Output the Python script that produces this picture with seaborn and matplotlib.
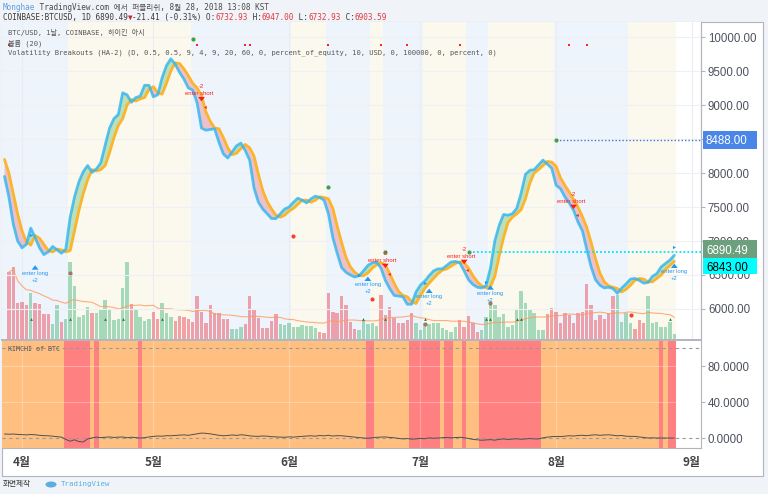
import numpy as np
import pandas as pd
import matplotlib
matplotlib.use("Agg")
import matplotlib.pyplot as plt
import matplotlib.dates as mdates
from matplotlib.patches import Rectangle, Ellipse
from matplotlib.transforms import blended_transform_factory, offset_copy
import seaborn as sns

# ------------------------------------------------------------------ data
first_day = "2018-03-28"
ha_close = [
    7950, 7650, 7250, 7000, 6900, 6950, 7190, 7050, 6900, 6800,
    6840, 6920, 6870, 6820, 6880, 7350, 7650, 7870, 8020, 8110,
    8010, 8060, 8150, 8410, 8660, 8800, 8860, 9180, 9150, 9040,
    9110, 9130, 9290, 9290, 9120, 9150, 9400, 9580, 9680, 9600,
    9480, 9380, 9250, 9220, 9030, 8660, 8630, 8640, 8650, 8450,
    8280, 8220, 8310, 8400, 8440, 8330, 8190, 7780, 7570, 7470,
    7400, 7330, 7330, 7400, 7470, 7500, 7570, 7630, 7600, 7560,
    7620, 7660, 7640, 7600, 7400, 7050, 6820, 6610, 6540, 6500,
    6470, 6490, 6560, 6640, 6680, 6690, 6600, 6420, 6300, 6200,
    6190, 6180, 6070, 6070, 6250, 6350, 6410, 6490, 6560, 6590,
    6590, 6640, 6690, 6700, 6680, 6560, 6430, 6360, 6320, 6310,
    6340, 6600, 7000, 7230, 7390, 7380, 7400, 7480, 7700, 7980,
    8040, 8050, 8120, 8190, 8130, 8070, 7820, 7770, 7650, 7560,
    7450, 7280, 7150, 6880, 6620, 6430, 6350, 6310, 6320, 6300,
    6230, 6310, 6370, 6440, 6450, 6420, 6380, 6390, 6480, 6520,
    6620, 6670, 6720, 6790]
ha_open = [
    8200, 8000, 7700, 7400, 7150, 6990, 6940, 7080, 7040, 6950,
    6860, 6840, 6880, 6870, 6840, 6860, 7150, 7450, 7700, 7900,
    8050, 8030, 8050, 8110, 8300, 8520, 8700, 8800, 9000, 9080,
    9060, 9090, 9110, 9230, 9270, 9180, 9160, 9320, 9500, 9620,
    9610, 9530, 9430, 9320, 9250, 9140, 8900, 8760, 8660, 8650,
    8520, 8370, 8270, 8290, 8360, 8420, 8370, 8250, 7980, 7740,
    7580, 7470, 7380, 7350, 7380, 7440, 7480, 7540, 7600, 7600,
    7570, 7600, 7650, 7640, 7620, 7480, 7220, 6980, 6760, 6620,
    6540, 6490, 6490, 6530, 6600, 6650, 6680, 6650, 6520, 6380,
    6260, 6200, 6180, 6110, 6080, 6200, 6300, 6380, 6450, 6520,
    6570, 6590, 6630, 6670, 6690, 6680, 6600, 6490, 6400, 6340,
    6310, 6330, 6480, 6780, 7050, 7270, 7350, 7400, 7460, 7620,
    7850, 8000, 8050, 8110, 8170, 8160, 8100, 7930, 7820, 7720,
    7610, 7500, 7360, 7200, 6980, 6740, 6530, 6400, 6340, 6320,
    6300, 6250, 6290, 6350, 6420, 6450, 6440, 6400, 6400, 6450,
    6500, 6580, 6640, 6700]

volume_first_day = "2018-03-29"
volume = [
    68, 73, 37, 38, 35, 47, 37, 36, 26, 26, 16, 35, 18, 21, 78, 54, 23, 25, 33, 27,
    27, 30, 40, 30, 20, 21, 52, 78, 36, 30, 23, 19, 21, 28, 21, 37, 27, 23, 19, 24,
    23, 21, 18, 44,
    28, 17, 35, 27, 27, 21, 21, 11, 11, 13, 16, 44, 30, 22, 12, 12, 19, 26, 16, 15,
    17, 13, 13, 15, 14, 14, 12, 8, 7, 47, 28, 27, 44, 35, 18, 11, 10, 20, 16, 17,
    14, 45, 25,
    33, 22, 17, 17, 20, 27, 17, 10, 17, 16, 17, 17, 12, 10, 8, 13, 20, 13, 24, 17,
    8, 10, 23, 37, 35, 23, 26, 13, 15, 31, 49, 37, 30, 27, 10, 10, 26, 32, 28, 17,
    27, 25, 17, 27,
    28, 56, 35, 20, 25, 21, 27, 44, 45, 18, 27, 17, 11, 20, 17, 44, 17, 18, 13, 13,
    18, 6]
volume_side = ("RRRRRGRRRRGGRGGGGGGRGGGGGGGGRGGGGRRGGGRRRRRR"
               "RRRRRRRGGGRRRRRRRRGGGGGGGGGRRRRRRRRRGGGGGRR"
               "RRRRRRGGGGGGGGGGRRRRRGGGGGGGGGGGGGGGRRRRRRRR"
               "RRRRRRRRGGGGRRRGGGGGGG")

kimchi_premium = [
    4.5, 4.2, 4.4, 4.0, 3.8, 3.5, 3.9, 3.6, 3.0, 2.6,
    2.5, 2.0, 1.5, 1.0, -1.5, -3.6, -2.0, -4.0, -4.4, -1.0,
    0.2, 1.0, 0.5, 0.8, 1.2, 0.6, 1.0, 1.1, 0.3, 0.9,
    0.5, 0.0, 0.4, 1.2, 1.8, 2.2, 2.0, 2.6, 2.5, 2.9,
    3.2, 3.5, 3.0, 3.8, 4.6, 5.5, 5.2, 4.6, 3.8, 3.0,
    2.5, 2.8, 3.4, 2.9, 3.6, 3.2, 2.4, 2.0, 1.8, 2.3,
    2.0, 1.5, 1.2, 1.0, 0.8, 1.3, 1.0, 1.5, 1.8, 2.2,
    2.5, 2.0, 2.8, 2.4, 3.0, 2.2, 2.6, 2.5, 2.0, 1.6,
    1.0, 0.5, 0.0, -0.3, 0.2, 0.8, 1.0, 1.2, 0.6, 0.3,
    -0.5, -1.0, -0.6, -1.2, -1.0, -0.4, -0.8, 0.2, -0.3, 0.0,
    0.4, 0.6, 0.2, 0.5, 0.8, 0.3, -0.5, -1.5, -2.0, -2.5,
    -2.2, -1.8, -2.4, -1.5, -1.0, -1.6, -1.2, -0.8, -1.4, -1.0,
    -0.6, -1.0, -1.0, 0.2, 1.0, 1.5, 1.8, 1.6, 2.0, 2.5,
    2.2, 2.8, 3.0, 2.6, 3.2, 3.6, 3.0, 3.4, 3.6, 3.1,
    2.5, 2.8, 2.0, 1.8, 1.8, 1.2, 0.5, 0.0, 0.2, 0.0,
    0.0, -0.1, 0.0, 0.0]

kimchi_red_days = [("2018-04-11", "2018-04-16"), ("2018-04-18", "2018-04-18"),
                   ("2018-04-28", "2018-04-28"), ("2018-06-19", "2018-06-20"),
                   ("2018-06-29", "2018-07-05"), ("2018-07-07", "2018-07-08"),
                   ("2018-07-11", "2018-07-11"), ("2018-07-15", "2018-07-28"),
                   ("2018-08-25", "2018-08-25"), ("2018-08-27", "2018-08-28")]
kimchi_last_day = "2018-08-28"

long_state_days = [("2018-04-12", "2018-05-09"), ("2018-06-02", "2018-06-09"),
                   ("2018-06-20", "2018-06-22"), ("2018-07-02", "2018-07-11"),
                   ("2018-07-17", "2018-07-31"), ("2018-08-18", "2018-08-28")]
short_state_days = [("2018-03-20", "2018-04-11"), ("2018-05-10", "2018-06-01"),
                    ("2018-06-10", "2018-06-19"), ("2018-06-23", "2018-07-01"),
                    ("2018-07-12", "2018-07-16"), ("2018-08-01", "2018-08-17")]

long_entry_days = ["2018-04-04", "2018-06-19", "2018-07-03", "2018-07-17", "2018-08-28"]
long_entry_prices = [6622, 6456, 6279, 6328, 6647]
short_entry_days = ["2018-05-12", "2018-06-23", "2018-07-11", "2018-08-05"]
short_entry_prices = [9074, 6622, 6681, 7490]
long_fill_days = ["2018-04-03", "2018-06-17", "2018-07-02", "2018-07-16", "2018-08-28"]
long_fill_prices = [7088, 6500, 6382, 6401, 6916]

green_dot_days = ["2018-05-10", "2018-06-10", "2018-06-23", "2018-07-12", "2018-08-01"]
green_dot_prices = [9966, 7790, 6843, 6843, 8488]
red_dot_days = ["2018-06-02", "2018-06-20", "2018-08-18"]
red_dot_prices = [7074, 6143, 5912]
brown_dot_days = ["2018-04-12", "2018-07-02", "2018-07-17"]
brown_dot_prices = [6525, 5779, 6088]
top_tick_days = ["2018-03-29", "2018-05-11", "2018-05-22", "2018-05-23", "2018-06-10",
                 "2018-06-22", "2018-06-28", "2018-07-10", "2018-08-04", "2018-08-08"]
top_tick_price = 9882
vol_marker_days = ["2018-04-03", "2018-04-12", "2018-04-20", "2018-04-24", "2018-05-03",
                   "2018-06-18", "2018-06-23", "2018-07-02", "2018-07-16", "2018-07-17",
                   "2018-07-23", "2018-07-24", "2018-08-27"]
vol_marker_price = 5850

target_level, target_from = 8488.00, "2018-08-01"
stop_level, stop_from = 6843.00, "2018-07-12"
last_price = 6890.49

price_ticks = [6000, 6500, 7000, 7500, 8000, 8500, 9000, 9500, 10000]
hidden_price_ticks = [8500]          # fully covered by the 8488.00 tag
kimchi_ticks = [0, 40, 80]
month_ticks = ["2018-04-01", "2018-05-01", "2018-06-01", "2018-07-01", "2018-08-01", "2018-09-01"]
month_labels = ["4월", "5월", "6월", "7월", "8월", "9월"]

# ------------------------------------------------------------------ style
sns.set_style("white")
plt.rcParams["font.family"] = ["Liberation Sans", "Noto Sans CJK KR", "DejaVu Sans"]
MONO = ["DejaVu Sans Mono", "Noto Sans CJK KR"]
PAGE = "#F0F3F7"
FRAME = "#B2B5BE"
TXT = "#4C525E"

W, H = 768, 494


def frac_rect(x0, y0, x1, y1):
    return [x0 / W, 1 - y1 / H, (x1 - x0) / W, (y1 - y0) / H]


def dnum(d):
    return mdates.date2num(pd.Timestamp(d).to_pydatetime())


fig = plt.figure(figsize=(W / 100, H / 100), dpi=100, facecolor=PAGE)
fig.add_artist(Rectangle((2 / W, 1 - 476 / H), 761 / W, 454 / H, transform=fig.transFigure,
                         facecolor="white", edgecolor=FRAME, linewidth=0.8, zorder=-5))

dates = pd.date_range(first_day, periods=len(ha_close), freq="D")
vdates = pd.date_range(volume_first_day, periods=len(volume), freq="D")
apr1 = pd.Timestamp("2018-04-01")
x_left = apr1 - pd.Timedelta(days=4.57)
x_right = apr1 + pd.Timedelta(days=155.1)
half = pd.Timedelta(hours=12)

# ---------------------------------------------------------------- main pane
ax_vol = fig.add_axes(frac_rect(2, 22, 701, 340))
ax_main = ax_vol.twinx()

for a, b in short_state_days:
    ax_vol.axvspan(pd.Timestamp(a) - half, pd.Timestamp(b) + half, color="#EEF4FB", lw=0, zorder=0)
for a, b in long_state_days:
    ax_vol.axvspan(pd.Timestamp(a) - half, pd.Timestamp(b) + half, color="#FBF8EE", lw=0, zorder=0)
for m in month_ticks:
    ax_vol.axvline(pd.Timestamp(m), color="#E9ECF1", lw=0.8, zorder=0.5)

vol_colors = ["#53B987" if s == "G" else "#EB4D5C" for s in volume_side]
ax_vol.bar(vdates, volume, width=0.78, color=vol_colors, alpha=0.5, lw=0, zorder=1)
vol_ma = pd.Series(volume).rolling(20, min_periods=1).mean()
sns.lineplot(x=vdates, y=vol_ma.values, ax=ax_vol, color="#FF9A5C", lw=0.8, alpha=0.8, zorder=2)
ax_vol.set_ylim(0, 318)
ax_vol.set_yticks([])
ax_vol.set_ylabel("")

c = np.array(ha_close, dtype=float)
o = np.array(ha_open, dtype=float)
for y in price_ticks:
    ax_main.axhline(y, color="#EEF0F3", lw=0.8, zorder=0)
ax_main.fill_between(dates, c, o, where=c >= o, interpolate=True, color="#8CCB8C", alpha=0.55, lw=0, zorder=1)
ax_main.fill_between(dates, c, o, where=c < o, interpolate=True, color="#EE8E9A", alpha=0.5, lw=0, zorder=1)
sns.lineplot(x=dates, y=o, ax=ax_main, color="#FBB52B", lw=2.0, zorder=2)
sns.lineplot(x=dates, y=c, ax=ax_main, color="#2EB5F0", lw=2.0, alpha=0.8, zorder=3)

# target / stop lines
ax_main.hlines(target_level, pd.Timestamp(target_from), x_right, colors="#3C78D8", linestyles=(0, (1, 1.5)), lw=1.0, zorder=3)
ax_main.hlines(stop_level, pd.Timestamp(stop_from), x_right, colors="#00E5FF", linestyles=(0, (1, 1.2)), lw=1.3, zorder=3)

# dots
ax_main.scatter(pd.to_datetime(green_dot_days), green_dot_prices, s=9, color="#43A047", zorder=5, lw=0)
ax_main.scatter(pd.to_datetime(red_dot_days), red_dot_prices, s=9, color="#F44336", zorder=5, lw=0)
ax_main.scatter(pd.to_datetime(brown_dot_days), brown_dot_prices, s=9, color="#A1776A", zorder=5, lw=0)
ax_main.scatter(pd.to_datetime(top_tick_days), [top_tick_price] * len(top_tick_days), s=3, marker="s", color="#FF2020", zorder=5, lw=0)
ax_main.scatter(pd.to_datetime(vol_marker_days), [vol_marker_price] * len(vol_marker_days), s=4, marker="^", color="#2E7D32", zorder=5, lw=0)
ax_main.scatter(pd.to_datetime(long_fill_days), long_fill_prices, s=5, marker=">", color="#2196F3", zorder=5, lw=0)

LONG_C = "#2196F3"
SHORT_C = "#FF1A1A"
arrow_style = "simple,head_length=0.45,head_width=0.7,tail_width=0.3"
tip_up = offset_copy(ax_main.transData, fig=fig, x=0, y=3.0, units="points")
tip_dn = offset_copy(ax_main.transData, fig=fig, x=0, y=-3.0, units="points")
for d, p in zip(long_entry_days, long_entry_prices):
    dn = dnum(d)
    ax_main.annotate("", xy=(dn, p), xycoords=tip_up, xytext=(0, -6), textcoords="offset points",
                     arrowprops=dict(arrowstyle=arrow_style, color=LONG_C, lw=0, mutation_scale=7),
                     zorder=6, annotation_clip=False)
    ax_main.annotate("enter long", xy=(dn, p), xytext=(0, -4.8), textcoords="offset points",
                     ha="center", va="center", fontsize=4.2, color=LONG_C, zorder=6, annotation_clip=False)
    ax_main.annotate("+2", xy=(dn, p), xytext=(0, -9.6), textcoords="offset points",
                     ha="center", va="center", fontsize=4.2, color=LONG_C, zorder=6, annotation_clip=False)
for d, p in zip(short_entry_days, short_entry_prices):
    dn = dnum(d)
    ax_main.annotate("", xy=(dn, p), xycoords=tip_dn, xytext=(0, 6), textcoords="offset points",
                     arrowprops=dict(arrowstyle=arrow_style, color=SHORT_C, lw=0, mutation_scale=7),
                     zorder=6, annotation_clip=False)
    ax_main.annotate("enter short", xy=(dn, p), xytext=(-2, 4.8), textcoords="offset points",
                     ha="center", va="center", fontsize=4.2, color=SHORT_C, zorder=6)
    ax_main.annotate("-2", xy=(dn, p), xytext=(0, 9.6), textcoords="offset points",
                     ha="center", va="center", fontsize=4.2, color=SHORT_C, zorder=6)
    ax_main.annotate("◂", xy=(dn, p), xytext=(2.6, -4.8), textcoords="offset points",
                     ha="center", va="center", fontsize=4, color=SHORT_C, zorder=6,
                     family=["DejaVu Sans"])

ax_main.set_ylim(5544, 10221)
ax_main.set_xlim(x_left, x_right)
ax_vol.set_xlim(x_left, x_right)
ax_main.set_yticks(price_ticks)
ax_main.set_yticklabels(["" if v in hidden_price_ticks else f"{v:.2f}" for v in price_ticks])
ax_main.tick_params(axis="y", right=True, length=3, width=0.8, color=FRAME,
                    labelcolor=TXT, labelsize=8.3, pad=2)
ax_main.set_ylabel("")
ax_vol.set_xticks(pd.to_datetime(month_ticks))
ax_vol.tick_params(axis="x", length=0, labelbottom=False)
for ax in (ax_vol, ax_main):
    for s in ("top", "left"):
        ax.spines[s].set_visible(False)
    ax.spines["bottom"].set_color(FRAME)
    ax.spines["bottom"].set_linewidth(1.2)
    ax.spines["right"].set_color(FRAME)
    ax.spines["right"].set_linewidth(0.8)
ax_main.set_xlabel("")
ax_vol.set_xlabel("")

# right-axis price boxes
bt = blended_transform_factory(ax_main.transAxes, ax_main.transData)
ppx = (10221 - 5544) / 318.0
box_w = 54 / 699.0


def price_box(level, text, fc, tc, shift_px=0.0, h_px=18):
    yc = level - shift_px * ppx
    ax_main.add_patch(Rectangle((1 + 2 / 699.0, yc - h_px / 2 * ppx), box_w, h_px * ppx,
                                transform=bt, facecolor=fc, edgecolor="none", clip_on=False, zorder=10))
    ax_main.text(1 + 5 / 699.0, yc, text, transform=bt, ha="left", va="center_baseline",
                 fontsize=8.3, color=tc, zorder=11, clip_on=False)


price_box(target_level, f"{target_level:.2f}", "#4A86E8", "white")
price_box(last_price, f"{last_price:.2f}", "#6C9F7D", "white", shift_px=1.0, h_px=19)
price_box(stop_level, f"{stop_level:.2f}", "#00FFFF", "black", shift_px=14.5, h_px=16)

# legend texts in pane
legend_lines = ["BTC/USD, 1날, COINBASE, 하이킨 아시",
                "볼륨 (20)",
                "Volatility Breakouts (HA-2) (D, 0.5, 0.5, 9, 4, 9, 20, 60, 0, percent_of_equity, 10, USD, 0, 100000, 0, percent, 0)"]
for txt, ypx in zip(legend_lines, [33, 43, 52.5]):
    fig.text(8 / W, 1 - ypx / H, txt, fontsize=5.1, family=MONO, color="#555555", va="center", ha="left")

# ---------------------------------------------------------------- lower pane
ax_low = fig.add_axes(frac_rect(2, 341, 701, 448))
ax_low.axvspan(x_left, pd.Timestamp(kimchi_last_day) + half, color="#FFBF80", lw=0, zorder=0)
for a, b in kimchi_red_days:
    ax_low.axvspan(pd.Timestamp(a) - half, pd.Timestamp(b) + half, color="#FF8080", lw=0, zorder=0.2)
for m in month_ticks:
    ax_low.axvline(pd.Timestamp(m), color="white", lw=0.8, alpha=0.25, zorder=0.5)
for y in (40, 80):
    ax_low.axhline(y, color="white", lw=0.8, alpha=0.3, zorder=0.5)
ax_low.axhline(100, color="#9A9A9A", lw=0.8, ls=(0, (3, 3)), zorder=1)
ax_low.axhline(0, color="#9A9A9A", lw=0.8, ls=(0, (3, 3)), zorder=1)
sns.lineplot(x=dates, y=kimchi_premium, ax=ax_low, color="#505050", lw=0.7, zorder=2)
ax_low.set_xlim(x_left, x_right)
ax_low.set_ylim(-11.1, 107.8)
ax_low.yaxis.tick_right()
ax_low.set_yticks(kimchi_ticks)
ax_low.set_yticklabels([f"{v:.4f}" for v in kimchi_ticks])
ax_low.tick_params(axis="y", length=3, width=0.8, color=FRAME, labelcolor=TXT, labelsize=8.3, pad=2)
ax_low.set_xticks(pd.to_datetime(month_ticks))
ax_low.set_xticklabels(month_labels)
ax_low.tick_params(axis="x", length=0, pad=5.5, labelsize=8.5, labelcolor="#444444")
for lbl in ax_low.get_xticklabels():
    lbl.set_fontfamily(["Noto Sans CJK KR"])
    lbl.set_fontweight("bold")
ax_low.set_ylabel("")
ax_low.set_xlabel("")
ax_low.spines["left"].set_visible(False)
ax_low.spines["top"].set_visible(False)
for s in ("bottom", "right"):
    ax_low.spines[s].set_color(FRAME)
    ax_low.spines[s].set_linewidth(0.8)
ax_low.text(6 / 699, 1 - 8 / 107, "KIMCHI of BTC", transform=ax_low.transAxes, fontsize=4.8,
            family=MONO, color="#555555", va="center", ha="left")

# ---------------------------------------------------------------- header/footer
def chain(x_px, y_px, parts, size, family):
    t = fig.text(x_px / W, 1 - y_px / H, parts[0][0], color=parts[0][1], fontsize=size,
                 family=family, va="center", ha="left")
    prev = t
    for s, col in parts[1:]:
        prev = ax_low.annotate(s, xy=(1, 0.5), xycoords=prev, va="center", ha="left", color=col,
                               fontsize=size, family=family, annotation_clip=False)
    return t


chain(3, 7, [("Monghae", "#5B9FE3"), (" TradingView.com 에서 퍼블리쉬, 8월 28, 2018 13:08 KST", "#4A4A4A")], 5.5, MONO)
RED = "#E0393E"
DK = "#3A3A3A"
chain(3, 17.5, [("COINBASE:BTCUSD, 1D 6890.49", DK), ("▼", "#C62828"), ("-21.41 (-0.31%) O:", DK),
                ("6732.93", RED), (" H:", DK), ("6947.00", RED), (" L:", DK), ("6732.93", RED),
                (" C:", DK), ("6903.59", RED)], 5.5, MONO)

fig.text(3 / W, 1 - 484 / H, "화면제작", fontsize=5.5, family=["Noto Sans CJK KR"], color="#333333",
         va="center", ha="left")
fig.text(61 / W, 1 - 484 / H, "TradingView", fontsize=5.3, family=MONO, color="#5AAEE0",
         va="center", ha="left")
fig.add_artist(Ellipse((51 / W, 1 - 484.5 / H), 11 / W, 6 / H, transform=fig.transFigure,
                       facecolor="#5AAEE0", edgecolor="none"))

fig.savefig("out.png", dpi=100, facecolor=PAGE)
